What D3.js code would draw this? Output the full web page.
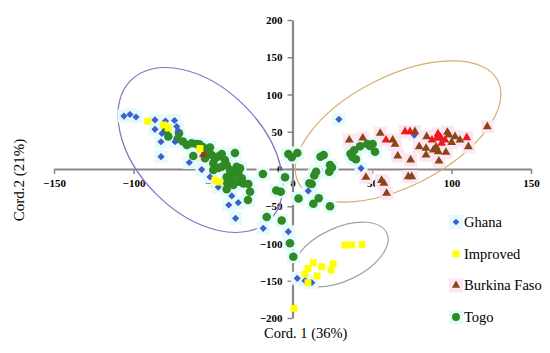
<!DOCTYPE html>
<html>
<head>
<meta charset="utf-8">
<script src="https://cdn.jsdelivr.net/npm/d3@7"></script>
<style>
  body { margin: 0; background: #fff; }
  svg { display: block; }
  .tick text { font-family: "Liberation Serif", serif; font-weight: bold; font-size: 11px; fill: #000; }
</style>
</head>
<body>
<svg id="chart" width="550" height="353"></svg>
<script>
// Axis ticks
const xTicks = [-150, -100, -50, 0, 50, 100, 150];
const yTicks = [-200, -150, -100, -50, 0, 50, 100, 150, 200];

// Series: [Cord.1, Cord.2]
const ghana = [
  [-106.0, 71.1], [-102.2, 73.2], [-98.4, 69.8], [-86.5, 65.8], [-79.9, 64.4], [-74.2, 65.1],
  [-86.5, 53.3], [-82.1, 47.7], [-82.7, 36.6], [-73.9, 36.6], [-72.8, 57.0], [-72.0, 51.7],
  [-82.7, 16.5], [-64.9, 8.7], [-57.1, -0.7], [-51.9, -10.7], [-46.7, -24.2], [-38.2, -36.2],
  [-34.1, -45.2], [-40.1, -48.3], [-35.8, -66.2], [-18.4, -79.6], [-2.6, -84.2], [9.9, -29.5],
  [29.2, 66.7], [43.1, 0.9], [76.6, 45.6], [3.0, -146.7], [7.9, -149.9], [12.1, -152.6]
];

const improved = [
  [-91.1, 64.2], [-81.1, 59.1], [-78.1, 55.0], [-58.2, 27.5], [-48.7, -14.8], [-46.2, -17.4],
  [33.0, -102.0], [37.2, -102.0], [43.7, -101.3], [13.1, -125.8], [9.7, -133.6], [18.4, -131.1],
  [25.5, -127.5], [24.2, -135.6], [7.9, -140.9], [15.4, -143.6], [9.7, -152.6], [0.9, -187.2]
];

const burkina = [
  [35.7, 38.9], [44.2, 41.6], [55.2, 47.9], [63.0, 38.9], [64.5, 33.2], [66.2, 17.4],
  [77.0, 50.1], [74.3, 12.1], [79.7, 29.9], [84.4, 43.4], [84.0, 27.8], [84.0, 18.8],
  [88.6, 25.5], [91.7, 23.2], [97.4, 49.3], [100.1, 35.8], [102.2, 43.4], [105.3, 38.9],
  [110.6, 29.9], [96.5, 22.4], [92.1, 10.7], [122.5, 56.8], [72.8, -10.3], [75.0, -10.3],
  [57.5, -19.2], [56.0, -15.4], [59.2, -32.6], [46.2, -11.1], [-56.0, 19.5], [90.3, 29.5],
  [98.4, 45.6]
];

// Burkina Faso points drawn in red
const burkinaRed = [
  [70.8, 50.1], [73.9, 50.1], [90.7, 41.2], [93.2, 42.0], [95.9, 38.9], [93.8, 34.5],
  [109.6, 42.0], [58.8, 38.9], [87.7, 38.9], [91.5, 47.0]
];

const togo = [
  [-79.6, 51.7], [-78.1, 43.6], [-71.4, 47.9], [-72.3, 40.3], [-68.9, 36.9], [-66.4, 32.2],
  [-63.4, 34.5], [-60.3, 33.6], [-62.4, 17.4], [-56.3, 29.5], [-51.9, 28.9], [-50.8, 18.8],
  [-48.7, 14.4], [-49.8, 7.7], [-49.8, -1.3], [-46.7, 16.8], [-44.5, 20.1], [-46.7, 1.3],
  [-42.5, 12.1], [-41.4, 5.4], [-44.5, 3.1], [-36.2, 21.5], [-39.3, -1.3], [-37.2, -4.0],
  [-38.2, -10.7], [-35.1, 3.1], [-34.1, -5.8], [-41.4, -10.7], [-41.0, -19.2], [-41.4, -27.2],
  [-37.2, -14.8], [-34.1, -17.0], [-31.9, -12.5], [-37.2, -21.5], [-30.9, -19.5], [-27.8, -20.1],
  [-26.7, -30.5], [-28.0, -41.6], [-18.6, -6.7], [-10.2, -28.9], [-7.4, -30.5], [-4.7, -11.1],
  [-2.6, 20.1], [-0.5, 15.7], [3.0, 21.5], [-16.2, -64.4], [-6.8, -69.1], [-1.6, -99.7],
  [0.5, -117.7], [3.8, -39.6], [13.1, -46.6], [16.5, -39.3], [23.6, -50.1], [10.6, -19.2],
  [12.1, -20.1], [14.8, -3.6], [13.7, -8.7], [17.6, 16.5], [19.6, 18.8], [23.6, 5.4],
  [24.8, 2.0], [23.1, -3.6], [36.5, 20.5], [38.8, 25.1], [37.7, 16.1], [39.9, 13.0],
  [42.5, 30.5], [47.0, 33.6], [48.7, 30.9], [50.4, 33.6], [51.9, 23.2], [-55.0, 14.4],
  [-58.6, 33.2], [-53.6, 22.8], [-33.0, 0.9]
];

const legendLabels = ['Ghana', 'Improved', 'Burkina Faso', 'Togo'];

// Group ellipses: centre in data units, radii in px, rotation in degrees
const groupEllipses = [
  { cx: -57.9, cy: 25.5, rx: 98.5, ry: 62.5, rot: 45, color: '#8870bf' },
  { cx: 66.4, cy: 50.3, rx: 112, ry: 55, rot: -27, color: '#d8ad6e' },
  { cx: 30.2, cy: -114.8, rx: 51, ry: 26.6, rot: -25, color: '#a3a3a3' }
];

const svg = d3.select('#chart');

const x = d3.scaleLinear().domain([-150, 150]).range([54, 531]);
const y = d3.scaleLinear().domain([-200, 200]).range([318, 20]);

const axisColor = '#888888';

// Axes through the origin
const gx = svg.append('g')
  .attr('transform', `translate(0,${y(0)})`)
  .call(d3.axisBottom(x).tickValues(xTicks).tickSize(5).tickSizeOuter(0).tickPadding(5));

const gy = svg.append('g')
  .attr('transform', `translate(${x(0)},0)`)
  .call(d3.axisLeft(y).tickValues(yTicks).tickSize(5).tickSizeOuter(0).tickPadding(5));

[gx, gy].forEach(g => {
  g.select('.domain').attr('stroke', axisColor).attr('stroke-width', 2.2);
  g.selectAll('.tick line').attr('stroke', axisColor).attr('stroke-width', 1.5);
});

// Ellipses
svg.append('g')
  .selectAll('ellipse')
  .data(groupEllipses)
  .join('ellipse')
  .attr('transform', d => `translate(${x(d.cx)},${y(d.cy)}) rotate(${d.rot})`)
  .attr('rx', d => d.rx)
  .attr('ry', d => d.ry)
  .attr('fill', 'none')
  .attr('stroke', d => d.color)
  .attr('stroke-width', 1.2);

// Series styling
const series = [
  { data: togo, shape: d3.symbolCircle, size: 58, color: '#2f8a26', glow: '#e2fcfa', rot: 0 },
  { data: ghana, shape: d3.symbolSquare, size: 26, color: '#3d5fcb', glow: '#e6fafc', rot: 45 },
  { data: burkina, shape: d3.symbolTriangle, size: 34, color: '#8a4516', glow: '#fde6f3', rot: 0 },
  { data: burkinaRed, shape: d3.symbolTriangle, size: 34, color: '#ee1a1a', glow: '#fde6f3', rot: 0 },
  { data: improved, shape: d3.symbolSquare, size: 48, color: '#ffff00', glow: null, rot: 0 }
];

// soft highlight behind markers
const glowG = svg.append('g');
series.filter(s => s.glow).forEach(s => {
  glowG.append('g')
    .selectAll('rect')
    .data(s.data)
    .join('rect')
    .attr('x', d => x(d[0]) - 6.5)
    .attr('y', d => y(d[1]) - 6.5)
    .attr('width', 13)
    .attr('height', 13)
    .attr('fill', s.glow);
});

series.forEach(s => {
  svg.append('g')
    .selectAll('path')
    .data(s.data)
    .join('path')
    .attr('transform', d => `translate(${x(d[0])},${y(d[1])}) rotate(${s.rot})`)
    .attr('d', d3.symbol().type(s.shape).size(s.size))
    .attr('fill', s.color);
});

// Axis titles
svg.append('text')
  .attr('x', 264)
  .attr('y', 338)
  .attr('font-family', '"Liberation Serif", serif')
  .attr('font-size', 14.5)
  .text('Cord. 1 (36%)');

svg.append('text')
  .attr('transform', 'translate(24,180) rotate(-90)')
  .attr('text-anchor', 'middle')
  .attr('font-family', '"Liberation Serif", serif')
  .attr('font-size', 15)
  .text('Cord.2 (21%)');

// Legend
const legendItems = [
  { label: legendLabels[0], shape: d3.symbolSquare, size: 22, color: '#3d5fcb', glow: '#e6fafc', rot: 45 },
  { label: legendLabels[1], shape: d3.symbolSquare, size: 48, color: '#ffff00', glow: null, rot: 0 },
  { label: legendLabels[2], shape: d3.symbolTriangle, size: 30, color: '#8a4516', glow: '#fde6f3', rot: 0 },
  { label: legendLabels[3], shape: d3.symbolCircle, size: 50, color: '#2f8a26', glow: '#e2fcfa', rot: 0 }
];

const legend = svg.append('g')
  .selectAll('g')
  .data(legendItems)
  .join('g')
  .attr('transform', (d, i) => `translate(456,${222 + i * 31.7})`);

legend.filter(d => d.glow).append('rect')
  .attr('x', -7).attr('y', -7).attr('width', 14).attr('height', 14)
  .attr('fill', d => d.glow);

legend.append('path')
  .attr('transform', d => `rotate(${d.rot})`)
  .attr('d', d => d3.symbol().type(d.shape).size(d.size)())
  .attr('fill', d => d.color);

legend.append('text')
  .attr('x', 8)
  .attr('dy', '0.35em')
  .attr('font-family', '"Liberation Serif", serif')
  .attr('font-size', 14.5)
  .text(d => d.label);
</script>
</body>
</html>
